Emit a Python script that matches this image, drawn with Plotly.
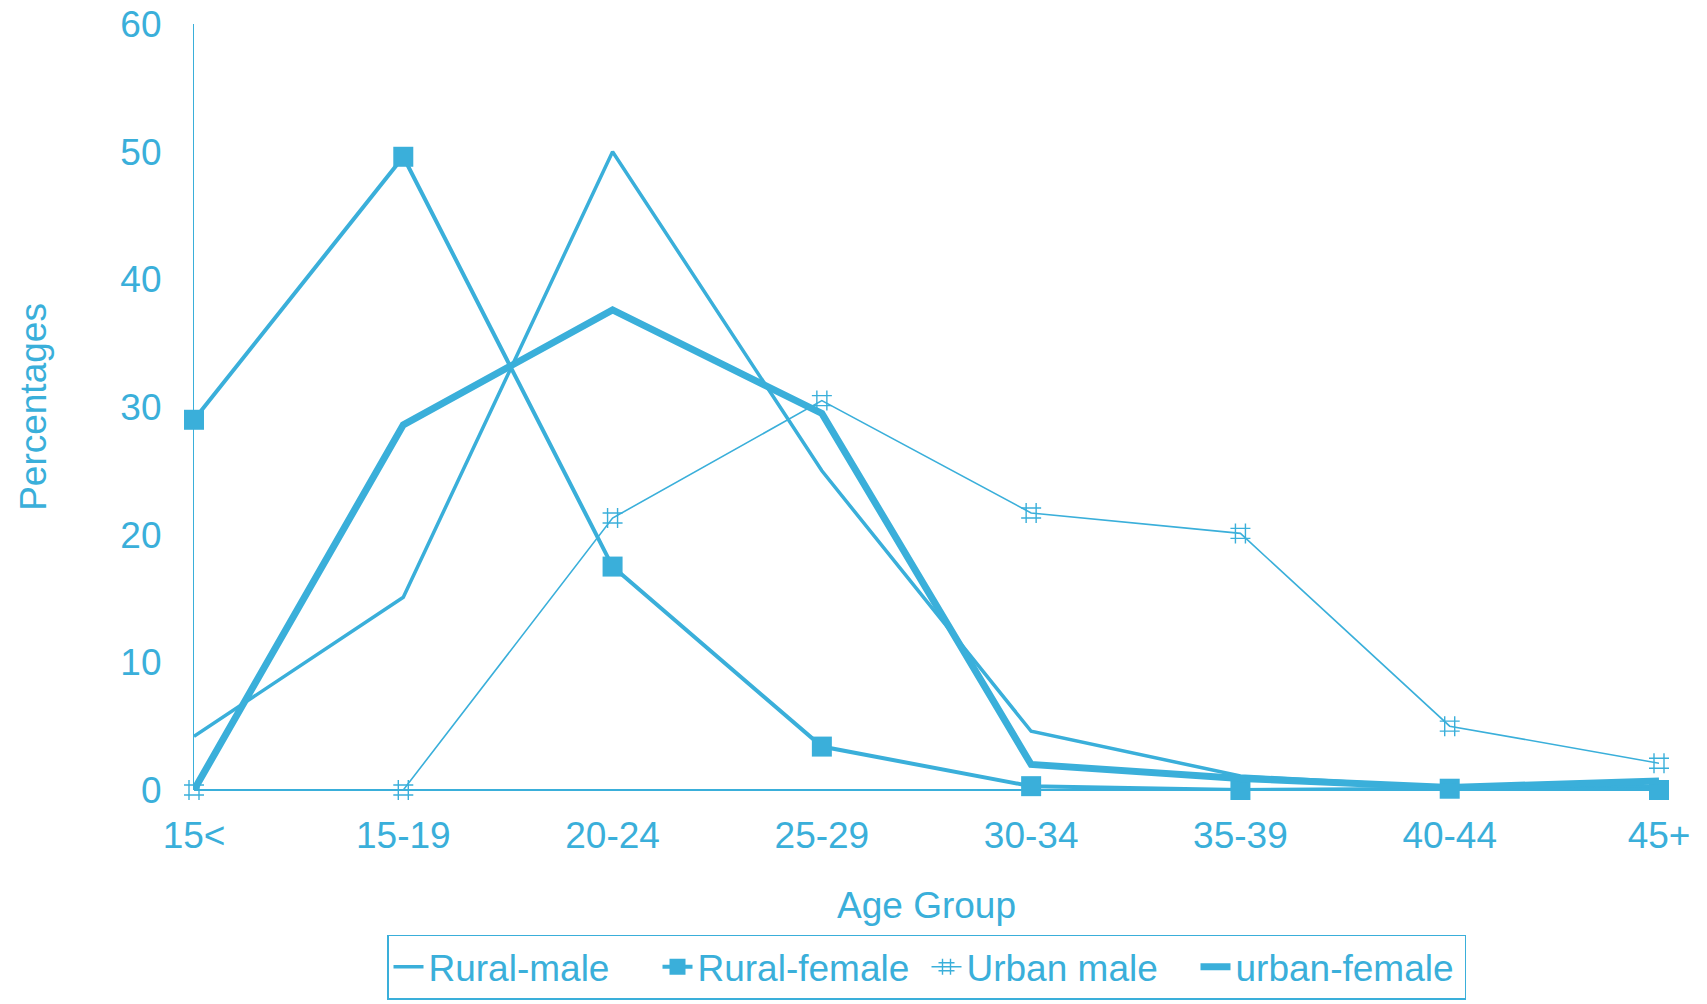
import plotly.graph_objects as go

age_groups = ["15<", "15-19", "20-24", "25-29", "30-34", "35-39", "40-44", "45+"]
rural_male = [4.2, 15.1, 50.0, 25.0, 4.6, 1.1, 0.2, 0.3]
rural_female = [29.0, 49.6, 17.5, 3.4, 0.3, 0.0, 0.1, 0.0]
urban_male = [0.0, 0.0, 21.3, 30.5, 21.7, 20.1, 5.0, 2.1]
urban_female = [0.0, 28.6, 37.6, 29.5, 2.0, 0.9, 0.2, 0.7]
y_ticks = [0, 10, 20, 30, 40, 50, 60]

C = "#3AAFDA"
FONT = "Liberation Sans"

fig = go.Figure()
fig.add_trace(go.Scatter(x=age_groups, y=rural_male, name="Rural-male", mode="lines",
                         line=dict(color=C, width=3.5), cliponaxis=False))
fig.add_trace(go.Scatter(x=age_groups, y=rural_female, name="Rural-female", mode="lines+markers",
                         line=dict(color=C, width=4),
                         marker=dict(symbol="square", size=20, color=C), cliponaxis=False))
fig.add_trace(go.Scatter(x=age_groups, y=urban_male, name="Urban male", mode="lines+markers",
                         line=dict(color=C, width=1.6),
                         marker=dict(symbol="hash-open", size=20, color=C, line=dict(color=C, width=1.4)),
                         cliponaxis=False))
fig.add_trace(go.Scatter(x=age_groups, y=urban_female, name="urban-female", mode="lines",
                         line=dict(color=C, width=7), cliponaxis=False))

fig.update_layout(
    width=1707, height=1004,
    margin=dict(l=194, r=48, t=24, b=214),
    paper_bgcolor="white", plot_bgcolor="white",
    font=dict(family=FONT, color=C, size=37),
    showlegend=True,
    legend=dict(orientation="h", x=0.5, xanchor="center",
                yref="container", y=0.069, yanchor="top",
                bordercolor=C, borderwidth=1.5, font=dict(size=37, color=C),
                itemwidth=30, entrywidth=224, entrywidthmode="pixels", tracegroupgap=0),
    xaxis=dict(type="category", range=[0, 7], showgrid=False, zeroline=False,
               showline=False, ticks="", tickfont=dict(size=37, color=C),
               ticklabelstandoff=20, automargin=False, ticklabeloverflow="allow",
               title=dict(text="Age Group", font=dict(size=37, color=C), standoff=37)),
    yaxis=dict(range=[0, 60], tickvals=y_ticks, showgrid=False, zeroline=True,
               zerolinecolor=C, zerolinewidth=1.5,
               showline=True, linecolor=C, linewidth=1.2, ticks="",
               tickfont=dict(size=37, color=C), ticklabelstandoff=24, automargin=False,
               ticklabeloverflow="allow",
               title=dict(text="Percentages", font=dict(size=37, color=C), standoff=62)),
)

fig.write_html("out.html", config={"displayModeBar": False},
               post_script="document.body.style.margin='0';")
